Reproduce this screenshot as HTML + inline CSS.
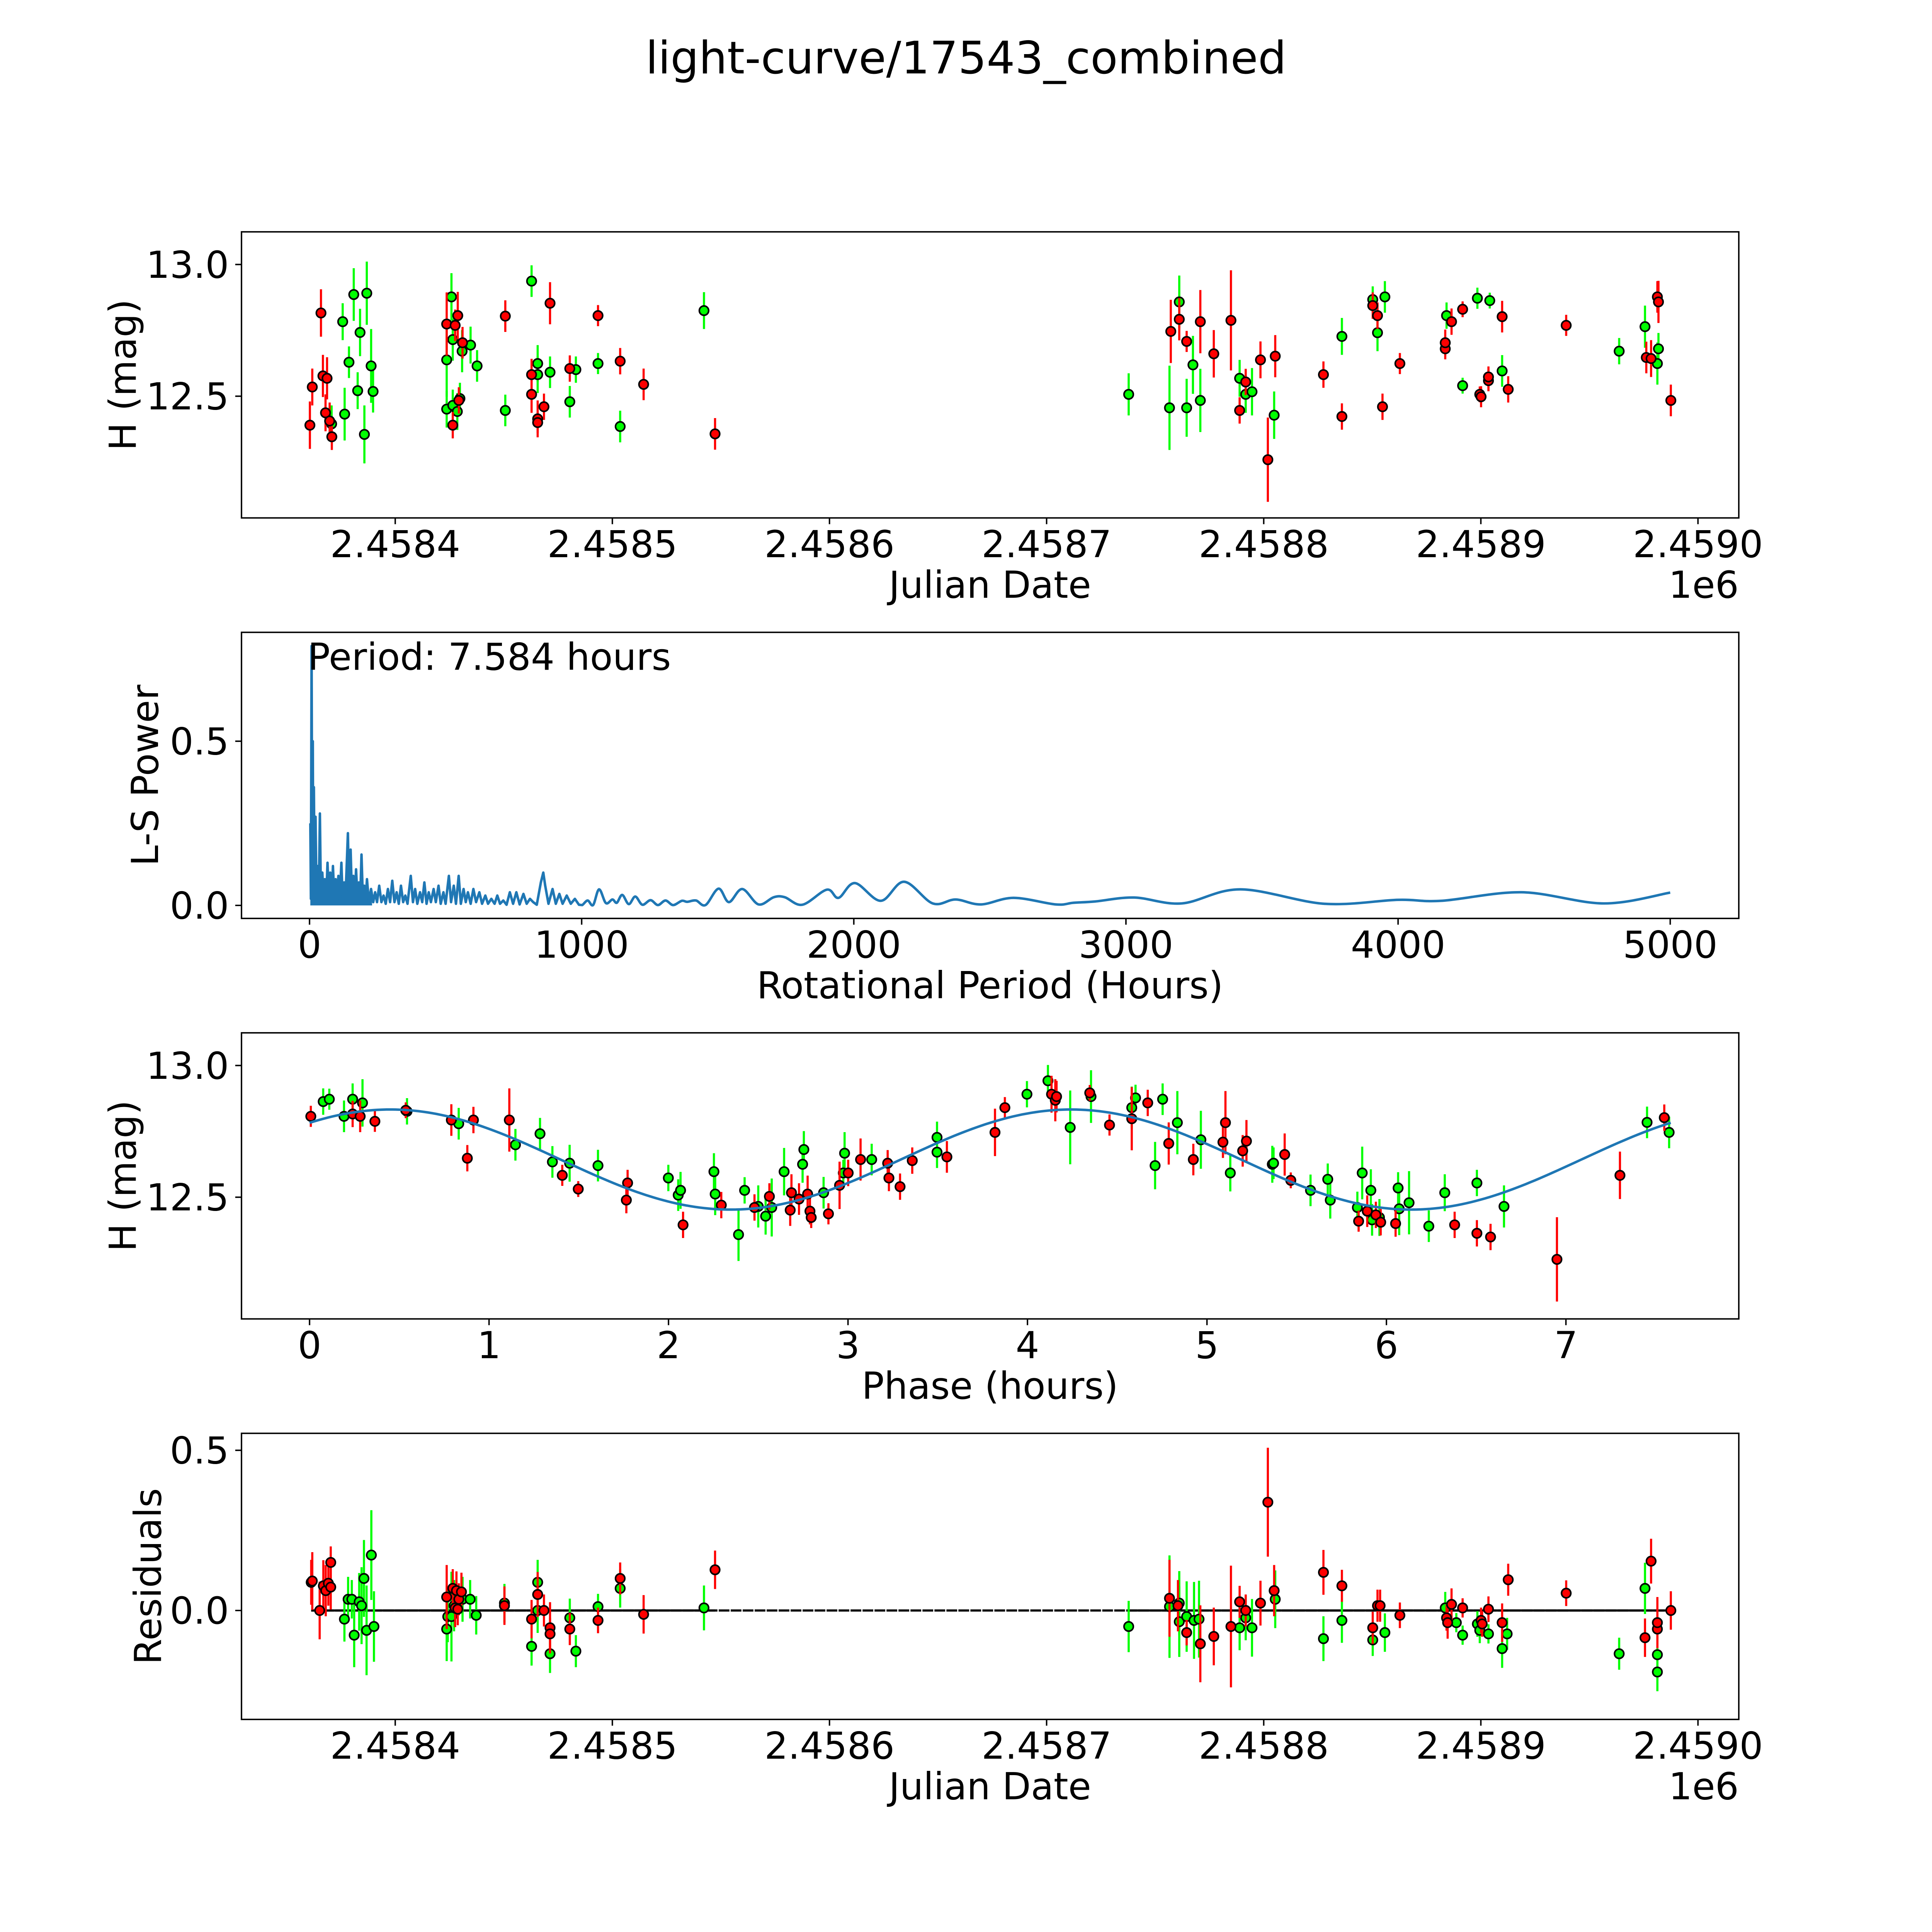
<!DOCTYPE html>
<html><head><meta charset="utf-8"><title>light-curve/17543_combined</title>
<style>html,body{margin:0;padding:0;background:#fff;overflow:hidden}svg{display:block;width:100vw;height:100vw}text{font-family:"DejaVu Sans","Liberation Sans",sans-serif;fill:#000}</style>
</head><body>
<svg id="fig" xmlns="http://www.w3.org/2000/svg" viewBox="0 0 5400 5400" preserveAspectRatio="xMinYMin meet">
<rect x="0" y="0" width="5400" height="5400" fill="#fff"/>
<text x="2700" y="205" font-size="125" text-anchor="middle">light-curve/17543_combined</text>
</svg>
<script>
// ---- Panel 1: light curve (days since JD 2458400, H mag, error) ----
const p1RedDay=[-39.3,-38.2,-34.2,-33.3,-31.4,-32.1,-30.2,-29.2,23.7,28.8,27.6,31.0,29.3,26.5,50.7,62.8,62.8,65.6,65.6,68.5,71.3,80.4,93.4,103.6,114.4,147.3,357.2,361.1,364.5,370.8,377.0,384.9,388.9,391.7,398.5,401.9,405.3,427.5,436.0,450.2,452.4,454.7,462.7,483.6,483.6,486.5,491.6,499.5,500.1,503.5,503.5,509.8,512.6,539.3,576.2,578.4,581.3,581.8,587.5];
const p1RedMag=[12.390,12.535,12.816,12.577,12.568,12.437,12.406,12.346,12.774,12.806,12.769,12.703,12.484,12.390,12.804,12.582,12.507,12.414,12.400,12.460,12.853,12.605,12.806,12.633,12.545,12.357,12.746,12.792,12.708,12.783,12.661,12.788,12.446,12.554,12.638,12.259,12.652,12.582,12.423,12.844,12.806,12.460,12.624,12.680,12.703,12.783,12.830,12.507,12.498,12.559,12.573,12.802,12.526,12.769,12.647,12.643,12.877,12.858,12.484];
const p1RedErr=[.09,.07,.09,.08,.08,.07,.07,.05,.12,.09,.06,.06,.05,.05,.06,.06,.07,.07,.04,.05,.08,.05,.04,.05,.06,.06,.12,.08,.04,.12,.09,.19,.05,.05,.07,.16,.08,.05,.05,.05,.05,.05,.04,.04,.05,.05,.03,.03,.04,.04,.04,.06,.05,.04,.06,.07,.06,.08,.06];
const p1GreenDay=[-29.3,-24.2,-21.3,-19.1,-16.2,-13.1,-17.3,-23.3,-11.1,-10.2,-14.2,25.9,26.5,23.7,30.8,34.7,37.7,23.7,26.5,29.8,28.6,50.7,62.8,65.6,65.6,71.3,80.4,83.2,93.4,103.6,142.2,337.8,356.6,361.1,364.5,367.4,370.8,388.9,391.7,394.6,404.8,436.0,450.2,452.4,455.8,484.2,491.6,498.4,504.1,509.8,563.7,575.6,581.3,581.8];
const p1GreenMag=[12.395,12.783,12.629,12.886,12.742,12.891,12.521,12.432,12.615,12.518,12.355,12.877,12.715,12.638,12.671,12.694,12.615,12.451,12.465,12.491,12.442,12.446,12.937,12.624,12.582,12.591,12.479,12.601,12.624,12.385,12.825,12.507,12.456,12.858,12.456,12.619,12.484,12.568,12.507,12.517,12.428,12.727,12.867,12.741,12.877,12.806,12.540,12.872,12.863,12.596,12.671,12.764,12.624,12.680];
const p1GreenErr=[.07,.07,.06,.1,.09,.12,.07,.1,.14,.08,.11,.09,.08,.14,.08,.07,.06,.07,.06,.06,.07,.06,.06,.07,.07,.06,.06,.05,.04,.06,.07,.08,.16,.1,.11,.11,.12,.07,.07,.09,.09,.07,.05,.07,.06,.05,.03,.04,.03,.06,.05,.08,.08,.06];
const jdTickDays=[0,100,200,300,400,500,600];
const jdTickLabels=["2.4584","2.4585","2.4586","2.4587","2.4588","2.4589","2.4590"];
const magTicks=[12.5,13.0];
const magTickLabels=["12.5","13.0"];

// ---- Panel 2: Lomb-Scargle periodogram ----
const lsPeriod=[3,5,7.6,10,12,14,16,19,22,26,30,34,38,42,47,52,56,61,66,71,76,81,86,91,96,101,106,111,117,122,127,132,141,146,151,156,161,166,171,176,181,186,191,196,201,206,211,218,226,234,241,248,256,264,272,280,288,296,304,312,320,328,336,344,352,360,372,380,388,396,406,414,422,430,438,446,456,464,474,482,492,500,512,520,530,538,548,556,566,574,582,592,602,612,624,634,646,656,668,680,690,700,712,724,736,748,760,772,786,798,810,822,835,850,859,866,878,893,905,918,930,945,960,975,990,1002,1022,1042,1064,1089,1113,1129,1149,1173,1197,1223,1253,1280,1308,1336,1368,1388,1420,1455,1503,1541,1590,1650,1706,1746,1811,1901,1944,2004,2099,2185,2290,2374,2467,2587,2742,2807,2887,3030,3205,3420,3730,4000,4159,4454,4756,5000];
const lsPower=[0.25,0.02,0.79,0.02,0.5,0.01,0.36,0.02,0.27,0.01,0.12,0.01,0.28,0.01,0.1,0.01,0.08,0.01,0.13,0.02,0.1,0.01,0.12,0.02,0.08,0.01,0.09,0.02,0.13,0.01,0.07,0.02,0.22,0.01,0.17,0.02,0.09,0.01,0.11,0.02,0.07,0.01,0.155,0.02,0.06,0.01,0.08,0.01,0.05,0.01,0.04,0.01,0.06,0.01,0.03,0.005,0.05,0.01,0.075,0.01,0.04,0.005,0.06,0.01,0.03,0.005,0.09,0.01,0.05,0.005,0.04,0.01,0.07,0.005,0.04,0.01,0.05,0.01,0.06,0.005,0.04,0.005,0.09,0.01,0.06,0.005,0.09,0.005,0.05,0.01,0.04,0.005,0.05,0.01,0.04,0.005,0.03,0.005,0.02,0.005,0.03,0.005,0.015,0.002,0.04,0.005,0.04,0.003,0.035,0.005,0.02,0.01,0.002,0.07,0.1,0.06,0.005,0.05,0.005,0.035,0.005,0.03,0.005,0.02,0.002,0.001,0.015,0.001,0.049,0.007,0.018,0.008,0.032,0.004,0.027,0.002,0.016,0.001,0.015,0.001,0.014,0.011,0.015,0.001,0.051,0.010,0.050,0.003,0.025,0.025,0.002,0.048,0.023,0.068,0.014,0.072,0.006,0.018,0.003,0.023,0.003,0.008,0.012,0.024,0.006,0.049,0.005,0.017,0.014,0.040,0.006,0.039];
const lsXTicks=[0,1000,2000,3000,4000,5000];
const lsYTicks=[0.0,0.5];
const lsYTickLabels=["0.0","0.5"];
const bestPeriodLabel="Period: 7.584 hours";

// ---- Panel 3: phase-folded (hours, mag, err) ----
const p3RedPhase=[.007,.240,.282,.364,.536,.790,.879,.913,1.113,1.408,1.497,1.772,1.765,2.081,2.294,2.479,2.562,2.678,2.685,2.727,2.775,2.788,2.795,2.891,2.953,3.001,3.070,3.221,3.228,3.290,3.358,3.551,3.819,3.874,4.134,4.155,4.162,4.347,4.457,4.581,4.670,4.787,4.924,5.089,5.103,5.199,5.220,5.433,5.467,5.845,5.893,5.941,5.968,6.051,6.380,6.504,6.580,6.950,7.301,7.548];
const p3RedMag=[12.807,12.816,12.807,12.788,12.830,12.793,12.648,12.793,12.793,12.583,12.531,12.554,12.489,12.395,12.470,12.461,12.503,12.451,12.517,12.493,12.512,12.447,12.423,12.437,12.545,12.592,12.643,12.629,12.573,12.540,12.639,12.653,12.746,12.840,12.891,12.868,12.882,12.896,12.774,12.798,12.858,12.704,12.643,12.709,12.783,12.676,12.713,12.662,12.564,12.409,12.447,12.433,12.405,12.400,12.395,12.363,12.349,12.264,12.583,12.802];
const p3RedErr=[.04,.05,.06,.04,.03,.06,.05,.05,.12,.04,.03,.05,.05,.05,.05,.05,.05,.06,.07,.06,.07,.05,.04,.04,.09,.05,.08,.05,.05,.05,.05,.06,.09,.04,.07,.08,.06,.03,.04,.12,.05,.08,.06,.06,.12,.06,.08,.08,.03,.04,.06,.05,.05,.05,.05,.05,.05,.16,.09,.05];
const p3GreenPhase=[.076,.110,.192,.240,.295,.543,.831,1.147,1.284,1.353,1.449,1.607,1.999,2.054,2.067,2.253,2.260,2.390,2.424,2.500,2.541,2.575,2.644,2.747,2.754,2.864,2.974,2.981,3.132,3.496,3.496,3.997,4.114,4.238,4.354,4.581,4.602,4.711,4.753,4.835,4.966,5.130,5.364,5.371,5.577,5.673,5.687,5.838,5.865,5.913,5.920,5.961,6.065,6.071,6.126,6.236,6.325,6.504,6.655,7.452,7.575];
const p3GreenMag=[12.863,12.872,12.807,12.872,12.858,12.826,12.779,12.699,12.741,12.634,12.629,12.620,12.573,12.508,12.526,12.597,12.512,12.358,12.526,12.465,12.428,12.461,12.597,12.625,12.681,12.517,12.592,12.667,12.643,12.727,12.671,12.891,12.942,12.765,12.882,12.840,12.877,12.620,12.872,12.783,12.718,12.592,12.625,12.629,12.526,12.568,12.489,12.461,12.592,12.526,12.414,12.423,12.535,12.456,12.479,12.390,12.517,12.554,12.465,12.784,12.746];
const p3GreenErr=[.05,.04,.06,.06,.09,.05,.06,.06,.06,.06,.07,.06,.05,.06,.07,.07,.08,.1,.05,.08,.07,.11,.09,.07,.07,.06,.05,.08,.06,.06,.06,.05,.06,.14,.1,.08,.05,.09,.06,.12,.11,.07,.07,.06,.06,.06,.07,.06,.1,.08,.06,.07,.06,.1,.12,.06,.07,.05,.08,.06,.06];
// fitted model: [mean mag, amplitude, harmonic period (h), peak phase (h), full period (h)]
const modelParams=[12.643,0.19,3.792,0.45,7.584];
const phaseTicks=[0,1,2,3,4,5,6,7];

// ---- Panel 4: residuals ----
const p4RedDay=[-38.7,-38.2,-34.8,-33.1,-32.0,-30.8,-29.7,-29.7,23.7,26.5,27.6,28.2,28.8,29.3,30.5,50.3,62.8,65.6,68.5,71.3,71.3,80.4,93.4,103.6,114.4,147.3,356.6,360.5,364.5,370.8,377.0,384.9,388.9,391.7,398.5,401.9,404.8,427.5,436.0,450.2,452.4,453.6,462.7,484.2,484.7,486.5,491.6,500.1,500.6,503.5,509.8,512.6,539.3,575.6,578.4,581.3,581.3,587.5];
const p4RedRes=[.088,.092,0,.077,.062,.085,.073,.150,.042,.069,.008,.062,.004,.035,.058,.015,-.027,.050,0,-.054,-.073,-.058,-.031,.100,-.012,.127,.038,.015,-.069,-.104,-.081,-.050,.027,0,.023,.338,.062,.119,.077,-.054,.015,.015,-.015,-.023,-.038,.019,.008,-.031,-.042,.004,-.038,.096,.054,-.085,.154,-.058,-.038,0];
const p4RedErr=[.07,.09,.09,.08,.08,.07,.07,.05,.1,.06,.06,.06,.05,.05,.06,.06,.06,.07,.05,.08,.05,.05,.04,.05,.06,.06,.12,.08,.04,.12,.09,.19,.05,.05,.07,.17,.08,.07,.05,.05,.05,.05,.04,.04,.05,.05,.03,.04,.04,.04,.06,.05,.04,.06,.07,.06,.08,.06];
const p4GreenDay=[-23.4,-21.7,-20.0,-18.9,-16.6,-15.5,-14.4,-13.2,-11.0,-9.8,23.7,24.2,25.9,27.1,31.0,34.5,37.3,50.3,62.8,65.6,65.6,71.3,80.4,83.2,93.4,103.6,142.2,337.8,356.6,361.1,361.1,364.5,367.9,370.2,388.9,391.7,394.6,405.3,427.5,436.0,450.2,455.8,483.6,488.7,491.6,498.4,499.5,503.5,509.8,512.1,563.7,575.6,581.3,581.3];
const p4GreenRes=[-.027,.035,.035,-.077,.027,.015,.100,-.062,.173,-.050,-.058,-.019,-.019,.015,.035,.035,-.015,.023,-.112,.088,0,-.135,-.023,-.127,.012,.069,.008,-.050,.012,.023,-.035,-.019,-.031,-.027,-.054,-.023,-.054,.035,-.088,-.031,-.092,-.069,.008,-.038,-.077,-.042,-.062,-.073,-.119,-.073,-.135,.069,-.138,-.192];
const p4GreenErr=[.07,.07,.06,.1,.09,.12,.12,.14,.14,.11,.1,.08,.14,.08,.07,.06,.06,.06,.06,.07,.07,.06,.06,.05,.04,.06,.07,.08,.16,.1,.11,.11,.12,.12,.07,.07,.09,.09,.07,.07,.05,.06,.05,.03,.03,.04,.04,.03,.06,.05,.05,.08,.08,.06];
const resTicks=[0.0,0.5];
const resTickLabels=["0.0","0.5"];

const FS=104;
const NS="http://www.w3.org/2000/svg";
const svg=document.getElementById('fig');
function mk(tag,attrs,parent){const e=document.createElementNS(NS,tag);for(const k in attrs)e.setAttribute(k,attrs[k]);(parent||svg).appendChild(e);return e;}
function panel(y0,y1,xmin,xmax,ymin,ymax){const x0=675,x1=4860;return{x0,x1,y0,y1,X:v=>x0+(v-xmin)/(xmax-xmin)*(x1-x0),Y:v=>y1-(v-ymin)/(ymax-ymin)*(y1-y0)};}
const P1=panel(648,1447.6,-70.8,618.8,12.038,13.124);
const P2=panel(1767.4,2567,-250,5252,-0.0396,0.8316);
const P3=panel(2886.8,3686.4,-0.3792,7.9632,12.038,13.124);
const P4=panel(4006.2,4805.8,-70.8,618.8,-0.340,0.553);

function frame(P,name){
  const r=mk('rect',{x:P.x0,y:P.y0,width:P.x1-P.x0,height:P.y1-P.y0,fill:'none',stroke:'#000','stroke-width':4});
  
  
}
function xticks(P,vals,labels,name){
  vals.forEach((v,i)=>{const x=P.X(v);
    const t=mk('line',{x1:x,x2:x,y1:P.y1,y2:P.y1+17.5,stroke:'#000','stroke-width':4});
    
    
    const l=mk('text',{x:x,y:P.y1+110,'font-size':FS,'text-anchor':'middle'});l.textContent=labels[i];
    
    
  });
}
function yticks(P,vals,labels,name){
  vals.forEach((v,i)=>{const y=P.Y(v);
    const t=mk('line',{x1:P.x0-17.5,x2:P.x0,y1:y,y2:y,stroke:'#000','stroke-width':4});
    
    
    const l=mk('text',{x:P.x0-35,y:y+37,'font-size':FS,'text-anchor':'end'});l.textContent=labels[i];
    
    
  });
}
function label(txt,x,y,rot,name){
  const l=mk('text',{x:x,y:y,'font-size':FS,'text-anchor':'middle'});
  if(rot){l.setAttribute('transform','rotate(-90 '+x+' '+y+')');l.setAttribute('dominant-baseline','central');}
  l.textContent=txt;
  
  
}
function errpts(P,xs,ys,es,color,name){
  const g=mk('g',{});
  
  
  xs.forEach((xv,i)=>{const x=P.X(xv);
    const b=mk('line',{x1:x,x2:x,y1:P.Y(ys[i]-es[i]),y2:P.Y(ys[i]+es[i]),stroke:color,'stroke-width':6},g);
    
    
  });
  xs.forEach((xv,i)=>{
    const c=mk('circle',{cx:P.X(xv),cy:P.Y(ys[i]),r:13,fill:color,stroke:'#000','stroke-width':4.5},g);
    
    
  });
}

// Panel 1
frame(P1,'light-curve-panel');
errpts(P1,p1GreenDay,p1GreenMag,p1GreenErr,'#00ff00','green-band-points');
errpts(P1,p1RedDay,p1RedMag,p1RedErr,'#ff0000','red-band-points');
xticks(P1,jdTickDays,jdTickLabels,'light-curve');
yticks(P1,magTicks,magTickLabels,'light-curve');
label('Julian Date',2767,P1.y1+223,false,'light-curve-x-axis-title');
{const o=mk('text',{x:4860,y:P1.y1+223,'font-size':FS,'text-anchor':'end'});o.textContent='1e6';

}
label('H (mag)',344,(P1.y0+P1.y1)/2,true,'light-curve-y-axis-title');

// Panel 2
frame(P2,'periodogram-panel');
{
  let fd='M'+P2.X(lsPeriod[0]).toFixed(1)+' '+P2.Y(0).toFixed(1);
  lsPeriod.forEach((p,i)=>{if(p<=230)fd+='L'+P2.X(p).toFixed(1)+' '+P2.Y(lsPower[i]).toFixed(1);});
  fd+='L'+P2.X(230).toFixed(1)+' '+P2.Y(0).toFixed(1)+'Z';
  const fa=mk('path',{d:fd,fill:'#1f77b4',stroke:'none'});
  
  
  const pts=lsPeriod.map((p,i)=>[P2.X(p),P2.Y(lsPower[i]),p]);
  let d='M'+pts[0][0].toFixed(1)+' '+pts[0][1].toFixed(1);
  for(let i=1;i<pts.length;i++){
    const a=pts[i-1],b=pts[i];
    if(a[2]<1000){d+='L'+b[0].toFixed(1)+' '+b[1].toFixed(1);}
    else{const p0=pts[Math.max(0,i-2)],p3=pts[Math.min(pts.length-1,i+1)];
      const c1x=a[0]+(b[0]-p0[0])/6,c1y=a[1]+(b[1]-p0[1])/6,c2x=b[0]-(p3[0]-a[0])/6,c2y=b[1]-(p3[1]-a[1])/6;
      d+='C'+c1x.toFixed(1)+' '+c1y.toFixed(1)+' '+c2x.toFixed(1)+' '+c2y.toFixed(1)+' '+b[0].toFixed(1)+' '+b[1].toFixed(1);}
  }
  const pl=mk('path',{d:d,fill:'none',stroke:'#1f77b4','stroke-width':7,'stroke-linejoin':'round'});
  
  
}
xticks(P2,lsXTicks,lsXTicks.map(String),'periodogram');
yticks(P2,lsYTicks,lsYTickLabels,'periodogram');
{const t=mk('text',{x:860,y:1872,'font-size':FS});t.textContent=bestPeriodLabel;

}
label('Rotational Period (Hours)',2767,P2.y1+223,false,'periodogram-x-axis-title');
label('L-S Power',406,(P2.y0+P2.y1)/2,true,'periodogram-y-axis-title');

// Panel 3
frame(P3,'phase-panel');
errpts(P3,p3GreenPhase,p3GreenMag,p3GreenErr,'#00ff00','green-phase-points');
errpts(P3,p3RedPhase,p3RedMag,p3RedErr,'#ff0000','red-phase-points');
{let d='';const n=300;for(let i=0;i<=n;i++){const ph=modelParams[4]*i/n;const m=modelParams[0]+modelParams[1]*Math.cos(2*Math.PI*(ph-modelParams[3])/modelParams[2]);d+=(i?'L':'M')+P3.X(ph).toFixed(1)+' '+P3.Y(m).toFixed(1);}
const ml=mk('path',{d:d,fill:'none',stroke:'#1f77b4','stroke-width':7});

}
xticks(P3,phaseTicks,phaseTicks.map(String),'phase');
yticks(P3,magTicks,magTickLabels,'phase');
label('Phase (hours)',2767,P3.y1+223,false,'phase-x-axis-title');
label('H (mag)',344,(P3.y0+P3.y1)/2,true,'phase-y-axis-title');

// Panel 4
frame(P4,'residuals-panel');
{const allD=p4RedDay.concat(p4GreenDay);const dmin=Math.min(...allD),dmax=Math.max(...allD);
const zl=mk('line',{x1:P4.X(dmin),x2:P4.X(dmax),y1:P4.Y(0),y2:P4.Y(0),stroke:'#000','stroke-width':6,'stroke-dasharray':'30 3.5'});


const z1=mk('line',{x1:P4.X(dmin),x2:P4.X(147.3),y1:P4.Y(0),y2:P4.Y(0),stroke:'#000','stroke-width':6});


const z2=mk('line',{x1:P4.X(337.8),x2:P4.X(dmax),y1:P4.Y(0),y2:P4.Y(0),stroke:'#000','stroke-width':6});

}
errpts(P4,p4GreenDay,p4GreenRes,p4GreenErr,'#00ff00','green-residual-points');
errpts(P4,p4RedDay,p4RedRes,p4RedErr,'#ff0000','red-residual-points');
xticks(P4,jdTickDays,jdTickLabels,'residuals');
yticks(P4,resTicks,resTickLabels,'residuals');
label('Julian Date',2767,P4.y1+223,false,'residuals-x-axis-title');
{const o=mk('text',{x:4860,y:P4.y1+223,'font-size':FS,'text-anchor':'end'});o.textContent='1e6';

}
label('Residuals',414,(P4.y0+P4.y1)/2,true,'residuals-y-axis-title');
</script>
</body></html>
